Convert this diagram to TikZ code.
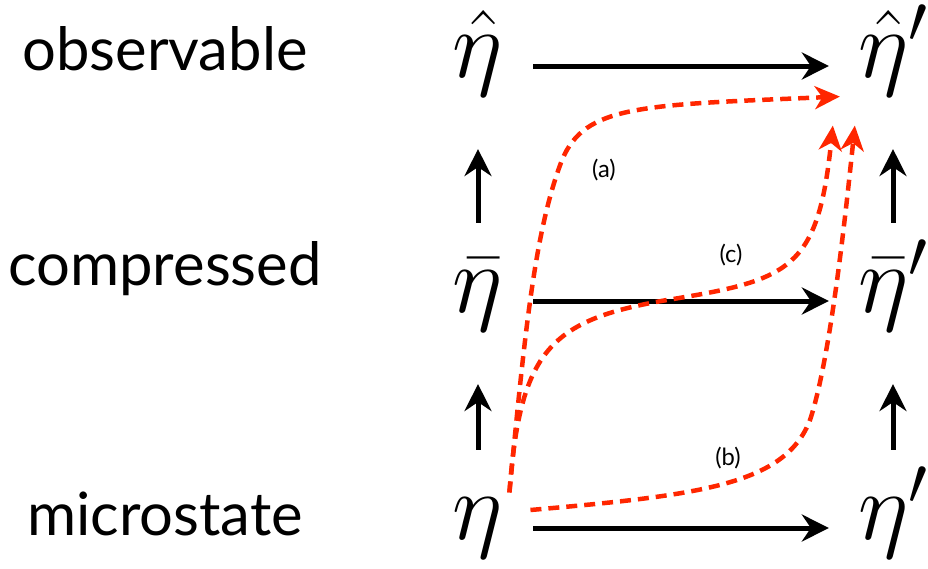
\RequirePackage{fix-cm}
\documentclass[tikz,border=0pt]{standalone}
\usepackage{fontspec}
\setmainfont{Lato}
\usetikzlibrary{arrows.meta, calc}
\definecolor{pathred}{RGB}{255,38,0}

\begin{document}
\begin{tikzpicture}[x=0.02cm, y=-0.02cm,
    lvl/.style={font=\fontsize{34}{36}\selectfont, anchor=base},
    st/.style={inner sep=0, font=\fontsize{55}{60}\selectfont, text height=23.7pt, text depth=10.7pt},
    harr/.style={-{Stealth[length=0.54cm, width=0.54cm, inset=0.18cm]}, line width=0.1cm, shorten <=0.6cm, shorten >=0.58cm},
    varr/.style={-{Stealth[length=0.54cm, width=0.54cm, inset=0.18cm]}, line width=0.1cm, shorten <=0.95cm, shorten >=1.05cm},
    route/.style={draw=pathred, line width=0.09cm, dash pattern=on 0.22cm off 0.14cm, -{Stealth[length=0.5cm, width=0.46cm, inset=0.15cm]}},
    tag/.style={font=\fontsize{13.5}{15}\selectfont}]
    \useasboundingbox (0,0) rectangle (928,568);
    % level names
    \node[lvl] (obs) at (165,70) {observable};
    \node[lvl] (comp) at (165,285) {compressed};
    \node[lvl] (micro) at (165,535) {microstate};
    % states before
    \node[st] (hat) at (478,66) {$\hat{\eta}$};
    \node[st] (bar) at (478,301) {$\bar{\eta}$};
    \node[st] (eta) at (478,528) {$\eta$};
    % states after
    \node[st] (hatp) at (893,66) {$\hat{\eta}'$};
    \node[st] (barp) at (893,301) {$\bar{\eta}'$};
    \node[st] (etap) at (893,528) {$\eta'$};
    % dynamics
    \draw[harr] (hat) -- (hatp);
    \draw[harr] (bar) -- (barp);
    \draw[harr] (eta) -- (etap);
    % coarse graining
    \draw[varr] (bar) -- (hat);
    \draw[varr] (eta) -- (bar);
    \draw[varr] (barp) -- (hatp);
    \draw[varr] (etap) -- (barp);
    % routes
    \draw[route] ([shift={(6,-5)}]eta.north east) .. controls (525,330) and (535,230) .. (562,160)
      .. controls (585,105) and (640,105) .. ([shift={(-18,0)}]hatp.south west);
    \draw[route] ([shift={(6,-5)}]eta.north east) .. controls (520,350) and (550,320) .. (667,300)
      .. controls (790,280) and (818,270) .. ([shift={(-25,29)}]hatp.south west);
    \draw[route] ([shift={(27,-18)}]eta.east) .. controls (700,495) and (785,485) .. (810,420)
      .. controls (830,360) and (845,220) .. ([shift={(-3,29)}]hatp.south west);
    \node[tag] (ta) at (604,170) {(a)};
    \node[tag] (tc) at (731,255) {(c)};
    \node[tag] (tb) at (728,458) {(b)};
\end{tikzpicture}
\end{document}
